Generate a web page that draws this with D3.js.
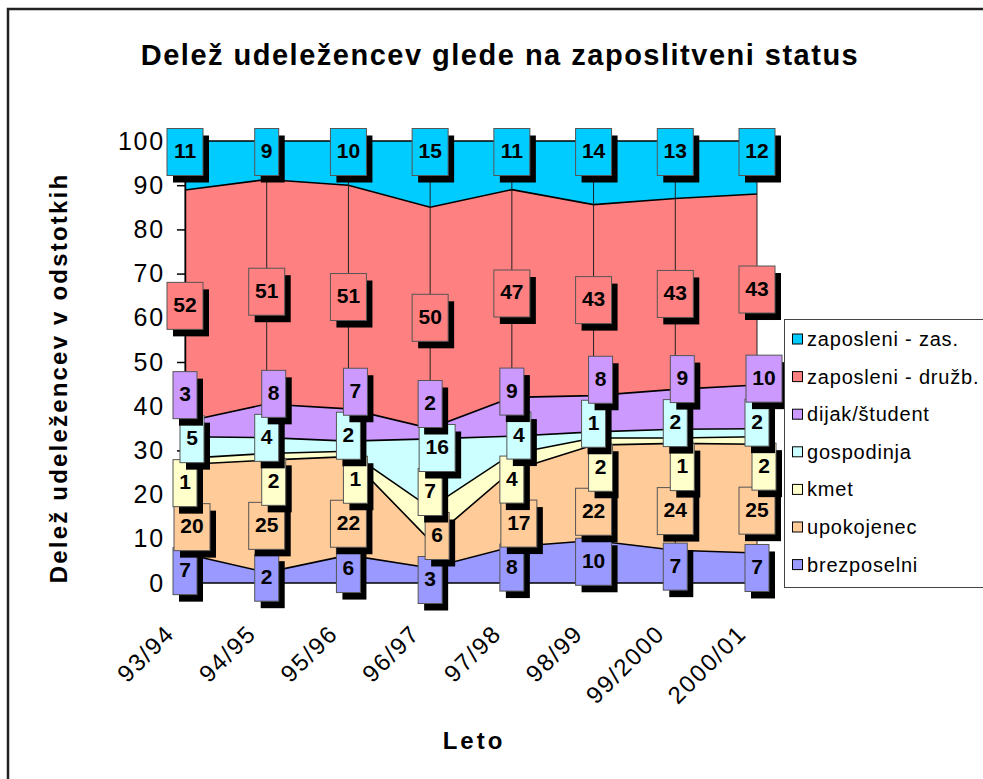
<!DOCTYPE html>
<html>

<head>
    <meta charset="utf-8">
    <script src="https://d3js.org/d3.v7.min.js"></script>
    <style>
        body {
            margin: 0;
            background: #ffffff;
        }

        svg text {
            font-family: Arial, "Liberation Sans", Helvetica, sans-serif;
        }
    </style>
</head>

<body>
    <div id="chart"></div>

    <script>
        // categories (school years)
        var years = ["93/94", "94/95", "95/96", "96/97", "97/98", "98/99", "99/2000", "2000/01"];

        // series, bottom to top of the stack (shares in %)
        var brezposelni = [6.6, 2.4, 6.3, 3.4, 8.2, 9.6, 7.4, 6.8];
        var upokojenec = [20.2, 25.4, 22.3, 6.2, 17.2, 21.6, 24.2, 24.6];
        var kmet = [1.4, 1.5, 1.2, 7.4, 3.8, 1.6, 1.2, 1.7];
        var gospodinja = [4.9, 3.6, 2.3, 15.6, 4.0, 1.4, 2.0, 1.8];
        var dijak = [3.4, 7.6, 7.3, 2.4, 8.8, 8.2, 9.0, 9.9];
        var zaposleniDruzb = [52.4, 50.8, 50.6, 50.0, 47.0, 43.2, 43.2, 43.2];
        var zaposleniZas = [11.1, 8.7, 10.0, 15.0, 11.0, 14.4, 13.0, 12.0];

        var seriesNames = ["brezposelni", "upokojenec", "kmet", "gospodinja", "dijak/študent", "zaposleni - družb.", "zaposleni - zas."];
        var seriesValues = [brezposelni, upokojenec, kmet, gospodinja, dijak, zaposleniDruzb, zaposleniZas];
        var seriesColors = ["#9999ff", "#ffcc99", "#ffffcc", "#ccffff", "#cc99ff", "#ff8080", "#00ccff"];

        var yTicks = [0, 10, 20, 30, 40, 50, 60, 70, 80, 90, 100];

        var width = 983,
            height = 779;

        var svg = d3.select("#chart")
            .append("svg")
            .attr("width", width)
            .attr("height", height);

        // chart frame (cut off at right and bottom like the original)
        svg.append("path")
            .attr("d", "M8,779 L8,9 L983,9")
            .attr("fill", "none")
            .attr("stroke", "#222")
            .attr("stroke-width", 2.5);

        svg.append("text")
            .attr("x", 500)
            .attr("y", 65)
            .attr("text-anchor", "middle")
            .style("font-size", "29px")
            .style("font-weight", "bold")
            .style("letter-spacing", "1.5px")
            .text("Delež udeležencev glede na zaposlitveni status");

        var x = d3.scalePoint()
            .domain(years)
            .range([185, 757]);

        var y = d3.scaleLinear()
            .domain([0, 100])
            .range([583, 141]);

        // table for the stack
        var table = years.map(function(yr, j) {
            var row = { year: yr };
            seriesNames.forEach(function(name, i) {
                row[name] = seriesValues[i][j];
            });
            return row;
        });

        var stack = d3.stack().keys(seriesNames);
        var layers = stack(table);

        var area = d3.area()
            .x(function(d) { return x(d.data.year); })
            .y0(function(d) { return y(d[0]); })
            .y1(function(d) { return y(d[1]); });

        var topLine = d3.line()
            .x(function(d) { return x(d.data.year); })
            .y(function(d) { return y(d[1]); });

        var plot = svg.append("g");

        plot.selectAll("path.area")
            .data(layers)
            .enter()
            .append("path")
            .attr("class", "area")
            .attr("d", area)
            .attr("fill", function(d, i) { return seriesColors[i]; });

        plot.selectAll("path.edge")
            .data(layers)
            .enter()
            .append("path")
            .attr("class", "edge")
            .attr("d", topLine)
            .attr("fill", "none")
            .attr("stroke", "#000")
            .attr("stroke-width", 1.6);

        // drop lines
        plot.selectAll("line.drop")
            .data(years)
            .enter()
            .append("line")
            .attr("class", "drop")
            .attr("x1", function(d) { return x(d); })
            .attr("x2", function(d) { return x(d); })
            .attr("y1", y(100))
            .attr("y2", y(0))
            .attr("stroke", "#222")
            .attr("stroke-width", 1);

        // axes
        var yAxis = d3.axisLeft(y)
            .tickValues(yTicks)
            .tickSize(8)
            .tickPadding(12);

        var gy = svg.append("g")
            .attr("transform", "translate(185,0)")
            .call(yAxis);
        gy.select(".domain").attr("stroke", "#000").attr("stroke-width", 1.5);
        gy.selectAll(".tick line").attr("stroke", "#000").attr("stroke-width", 1.5);
        gy.selectAll(".tick text")
            .attr("fill", "#000")
            .style("font-size", "25px")
            .style("letter-spacing", "1.8px");

        svg.append("line")
            .attr("x1", x(years[0]))
            .attr("x2", x(years[years.length - 1]))
            .attr("y1", y(0))
            .attr("y2", y(0))
            .attr("stroke", "#000")
            .attr("stroke-width", 1.5);

        svg.append("g")
            .selectAll("text")
            .data(years)
            .enter()
            .append("text")
            .attr("transform", function(d) {
                return "translate(" + (x(d) - 9) + "," + (y(0) + 52) + ") rotate(-45)";
            })
            .attr("text-anchor", "end")
            .style("font-size", "24px")
            .style("letter-spacing", "1.8px")
            .text(function(d) { return d; });

        svg.append("text")
            .attr("transform", "translate(67,378) rotate(-90)")
            .attr("text-anchor", "middle")
            .style("font-size", "24px")
            .style("font-weight", "bold")
            .style("letter-spacing", "2.2px")
            .text("Delež udeležencev v odstotkih");

        svg.append("text")
            .attr("x", 474)
            .attr("y", 749)
            .attr("text-anchor", "middle")
            .style("font-size", "24px")
            .style("font-weight", "bold")
            .style("letter-spacing", "3px")
            .text("Leto");

        // data labels: start at the middle of each band, then push apart
        // inside each column so the boxes do not overlap
        var boxH = 47,
            gap = 44,
            lowest = 580;

        var labels = [];
        years.forEach(function(yr, j) {
            var col = layers.map(function(layer, i) {
                var d = layer[j];
                var want = y((d[0] + d[1]) / 2);
                if (i === layers.length - 1) want = y(100) + 11;
                return { i: i, j: j, value: seriesValues[i][j], want: want };
            });
            var clusters = [];
            col.forEach(function(it) {
                clusters.push({ items: [it] });
                fit(clusters[clusters.length - 1]);
                while (clusters.length > 1) {
                    var a = clusters[clusters.length - 1],
                        b = clusters[clusters.length - 2];
                    if (a.s > b.s - b.items.length * gap) {
                        b.items = b.items.concat(a.items);
                        clusters.pop();
                        fit(b);
                    } else break;
                }
            });
            clusters.forEach(function(c) {
                c.items.forEach(function(it, k) {
                    it.cy = c.s - k * gap;
                    it.cx = x(yr) + (c.items.length > 1 && k % 2 ? 7 : 0);
                    labels.push(it);
                });
            });
        });

        function fit(c) {
            var m = d3.mean(c.items, function(it, k) { return it.want + k * gap; });
            c.s = Math.min(m, lowest);
        }

        var lab = svg.append("g")
            .selectAll("g")
            .data(labels)
            .enter()
            .append("g")
            .attr("transform", function(d) { return "translate(" + d.cx + "," + d.cy + ")"; });

        function boxW(d) {
            return String(Math.round(d.value)).length > 1 ? 36 : 24;
        }

        lab.append("rect")
            .attr("x", function(d) { return -boxW(d) / 2 + 6; })
            .attr("y", -boxH / 2 + 7)
            .attr("width", boxW)
            .attr("height", boxH)
            .attr("fill", "#000");

        lab.append("rect")
            .attr("x", function(d) { return -boxW(d) / 2; })
            .attr("y", -boxH / 2)
            .attr("width", boxW)
            .attr("height", boxH)
            .attr("fill", function(d) { return seriesColors[d.i]; })
            .attr("stroke", "#555")
            .attr("stroke-width", 1);

        lab.append("text")
            .attr("text-anchor", "middle")
            .attr("y", 6)
            .style("font-size", "21px")
            .style("font-weight", "bold")
            .text(function(d) { return Math.round(d.value); });

        // legend (top series first)
        var legend = svg.append("g");
        legend.append("rect")
            .attr("x", 784.5)
            .attr("y", 319.5)
            .attr("width", 240)
            .attr("height", 268)
            .attr("fill", "#fff")
            .attr("stroke", "#444")
            .attr("stroke-width", 1);

        var legendItems = seriesNames.map(function(n, i) { return i; }).reverse();
        var li = legend.selectAll("g.item")
            .data(legendItems)
            .enter()
            .append("g")
            .attr("class", "item")
            .attr("transform", function(d, k) { return "translate(792," + (339 + k * 37.6) + ")"; });

        li.append("rect")
            .attr("x", 0.5)
            .attr("y", -5)
            .attr("width", 10)
            .attr("height", 10)
            .attr("fill", function(d) { return seriesColors[d]; })
            .attr("stroke", "#000")
            .attr("stroke-width", 1);

        li.append("text")
            .attr("x", 15)
            .attr("y", 7)
            .style("font-size", "20px")
            .style("letter-spacing", "0.8px")
            .text(function(d) { return seriesNames[d]; });
    </script>

</body>

</html>
